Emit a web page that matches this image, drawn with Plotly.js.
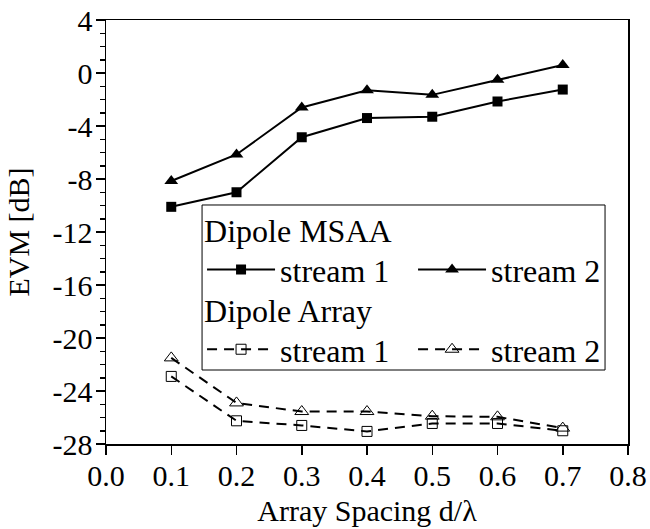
<!DOCTYPE html>
<html>
<head>
<meta charset="utf-8">
<script src="https://cdn.plot.ly/plotly-3.0.1.min.js"></script>
<style>html,body{margin:0;padding:0;background:#fff}#chart{width:650px;height:529px}</style>
</head>
<body>
<div id="chart"></div>
<script>
const spacing = [0.1, 0.2, 0.3, 0.4, 0.5, 0.6, 0.7];
const msaaStream1 = [-10.1, -9.0, -4.85, -3.4, -3.3, -2.15, -1.25];
const msaaStream2 = [-8.15, -6.15, -2.6, -1.3, -1.65, -0.5, 0.6];
const arrayStream1 = [-22.9, -26.25, -26.6, -27.05, -26.45, -26.45, -27.0];
const arrayStream2 = [-21.5, -24.9, -25.55, -25.55, -25.9, -25.95, -26.8];
const yTickVals = [-28, -24, -20, -16, -12, -8, -4, 0, 4];
const yTickText = ['-28', '-24', '-20', '-16', '-12', '-8', '-4', '0', '4'];
const xTickVals = [0.0, 0.1, 0.2, 0.3, 0.4, 0.5, 0.6, 0.7, 0.8];
const xTickText = ['0.0', '0.1', '0.2', '0.3', '0.4', '0.5', '0.6', '0.7', '0.8'];

const font = 'Liberation Serif';
const dashStyle = '10px,7px';

const traces = [
  {x: spacing, y: msaaStream1, name: 'stream 1', mode: 'lines+markers', legend: 'legend',
   line: {color: '#000', width: 2}, marker: {symbol: 'square', size: 10, color: '#000'}},
  {x: spacing, y: msaaStream2, name: 'stream 2', mode: 'lines+markers', legend: 'legend',
   line: {color: '#000', width: 2}, marker: {symbol: 'triangle-up', size: 12, color: '#000'}},
  {x: spacing, y: arrayStream1, name: 'stream 1', mode: 'lines+markers', legend: 'legend2',
   line: {color: '#000', width: 2, dash: dashStyle},
   marker: {symbol: 'square-open', size: 10, color: '#000', line: {width: 1}}},
  {x: spacing, y: arrayStream2, name: 'stream 2', mode: 'lines+markers', legend: 'legend2',
   line: {color: '#000', width: 2, dash: dashStyle},
   marker: {symbol: 'triangle-up-open', size: 12, color: '#000', line: {width: 1}}}
];

const legendCommon = {
  orientation: 'h', xref: 'paper', yref: 'paper', xanchor: 'left', yanchor: 'top',
  bgcolor: 'rgba(0,0,0,0)', borderwidth: 0,
  font: {family: font, size: 32, color: '#000'},
  entrywidth: 128, entrywidthmode: 'pixels', itemwidth: 68, tracegroupgap: 0
};

const layout = {
  width: 650, height: 529,
  margin: {l: 106, r: 22, t: 20, b: 85},
  paper_bgcolor: '#fff', plot_bgcolor: '#fff',
  font: {family: font, size: 30, color: '#000'},
  showlegend: true,
  legend: Object.assign({}, legendCommon, {x: 0.184, y: 0.574,
    title: {text: 'Dipole MSAA', side: 'top', font: {family: font, size: 32, color: '#000'}}}),
  legend2: Object.assign({}, legendCommon, {x: 0.184, y: 0.386,
    title: {text: 'Dipole Array', side: 'top', font: {family: font, size: 32, color: '#000'}}}),
  xaxis: {
    range: [0, 0.8], tickvals: xTickVals, ticktext: xTickText, automargin: false,
    ticks: 'outside', ticklen: 9, tickwidth: 1.5, tickcolor: '#000', ticklabelstandoff: -5,
    showline: true, linecolor: '#000', linewidth: 1.5, mirror: true,
    showgrid: false, zeroline: false,
    tickfont: {family: font, size: 30, color: '#000'},
    title: {text: 'Array Spacing d/λ', font: {family: font, size: 30, color: '#000'}, standoff: 9}
  },
  xaxis2: {
    overlaying: 'x', side: 'top', matches: 'x', range: [0, 0.8], tickvals: xTickVals,
    ticks: 'inside', ticklen: 8, tickwidth: 1.5, tickcolor: '#000',
    showticklabels: false, showgrid: false, zeroline: false, showline: false
  },
  yaxis: {
    range: [-28, 4], tickvals: yTickVals, ticktext: yTickText, automargin: false,
    ticks: 'outside', ticklen: 9, tickwidth: 1.5, tickcolor: '#000', ticklabelstandoff: -3,
    minor: {dtick: 1, ticks: 'outside', ticklen: 5, tickwidth: 1.5, tickcolor: '#000', showgrid: false},
    showline: true, linecolor: '#000', linewidth: 1.5, mirror: true,
    showgrid: false, zeroline: false,
    tickfont: {family: font, size: 30, color: '#000'},
    title: {text: 'EVM [dB]', font: {family: font, size: 30, color: '#000'}, standoff: 14}
  },
  yaxis2: {
    overlaying: 'y', side: 'right', matches: 'y', range: [-28, 4], tickvals: yTickVals,
    ticks: 'inside', ticklen: 8, tickwidth: 1.5, tickcolor: '#000',
    minor: {dtick: 1, ticks: 'inside', ticklen: 5, tickwidth: 1.5, tickcolor: '#000', showgrid: false},
    showticklabels: false, showgrid: false, zeroline: false, showline: false
  },
  shapes: [
    {type: 'rect', xref: 'paper', yref: 'paper', x0: 0.184, x1: 0.956, y0: 0.1745, y1: 0.5637,
     line: {color: '#000', width: 1}, fillcolor: 'rgba(0,0,0,0)', layer: 'above'}
  ]
};

Plotly.newPlot('chart', traces, layout, {staticPlot: true, displayModeBar: false});
</script>
</body>
</html>
